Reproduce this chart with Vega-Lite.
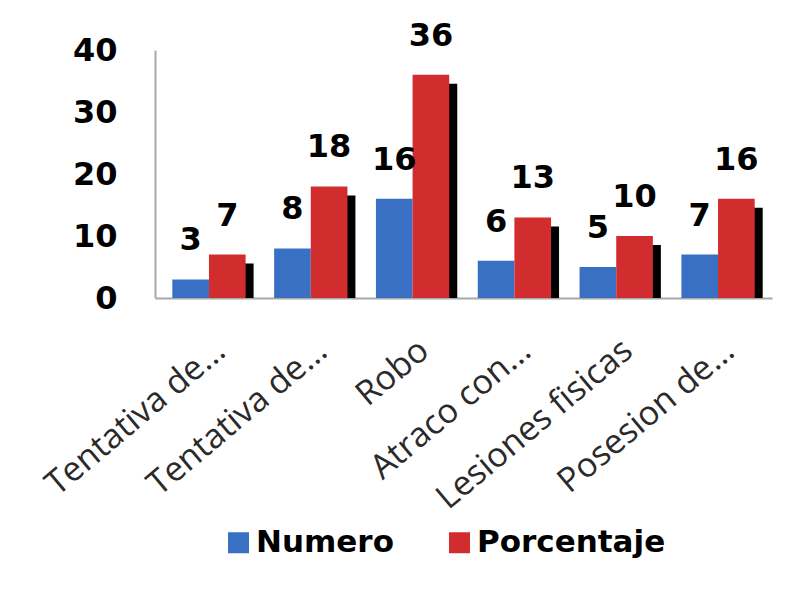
{
  "$schema": "https://vega.github.io/schema/vega-lite/v6.json",
  "autosize": "none",
  "width": 617,
  "height": 248,
  "padding": {"left": 155, "top": 50, "right": 37, "bottom": 296},
  "background": "white",
  "config": {"view": {"stroke": null}},
  "data": {
    "values": [
      {"cat": "Tentativa de...", "serie": "Numero", "valor": 3},
      {"cat": "Tentativa de...", "serie": "Porcentaje", "valor": 7},
      {"cat": "Tentativa de...\u200b", "serie": "Numero", "valor": 8},
      {"cat": "Tentativa de...\u200b", "serie": "Porcentaje", "valor": 18},
      {"cat": "Robo", "serie": "Numero", "valor": 16},
      {"cat": "Robo", "serie": "Porcentaje", "valor": 36},
      {"cat": "Atraco con...", "serie": "Numero", "valor": 6},
      {"cat": "Atraco con...", "serie": "Porcentaje", "valor": 13},
      {"cat": "Lesiones fisicas", "serie": "Numero", "valor": 5},
      {"cat": "Lesiones fisicas", "serie": "Porcentaje", "valor": 10},
      {"cat": "Posesion de...", "serie": "Numero", "valor": 7},
      {"cat": "Posesion de...", "serie": "Porcentaje", "valor": 16}
    ]
  },
  "encoding": {
    "x": {
      "field": "cat", "type": "nominal", "sort": null, "title": null,
      "scale": {"paddingInner": 0.28, "paddingOuter": 0.17},
      "axis": {
        "labelAngle": -40, "labelAlign": "right", "labelBaseline": "middle",
        "labelFont": "Open Sans", "labelFontSize": 34, "labelColor": "#2a2a2a",
        "labelPadding": 48, "labelOffset": 12, "labelLimit": 400,
        "ticks": false, "domainColor": "#a8a8a8", "domainWidth": 2
      }
    },
    "y": {
      "field": "valor", "type": "quantitative", "title": null,
      "scale": {"domain": [0, 40]},
      "axis": {
        "values": [0, 10, 20, 30, 40], "grid": false, "ticks": false,
        "labelFont": "DejaVu Sans", "labelFontWeight": "bold", "labelFontSize": 32,
        "labelColor": "black", "labelPadding": 38,
        "domainColor": "#a8a8a8", "domainWidth": 2
      }
    }
  },
  "layer": [
    {
      "transform": [{"filter": "datum.serie === 'Porcentaje'"}],
      "mark": {"type": "bar", "color": "black", "yOffset": 9, "clip": true},
      "encoding": {
        "xOffset": {"field": "serie", "type": "nominal", "scale": {"domain": ["Numero", "Porcentaje"], "paddingInner": 0, "range": [8, 81.3]}}
      }
    },
    {
      "layer": [
        {
          "mark": {"type": "bar"},
          "encoding": {
            "color": {
              "field": "serie", "type": "nominal",
              "scale": {"domain": ["Numero", "Porcentaje"], "range": ["#3a70c4", "#d22d2e"]},
              "legend": {
                "title": null, "orient": "none", "direction": "horizontal",
                "legendX": 68, "legendY": 477,
                "symbolType": "square", "symbolSize": 440, "symbolStrokeWidth": 0,
                "labelFont": "DejaVu Sans", "labelFontWeight": "bold", "labelFontSize": 31,
                "labelColor": "black", "labelLimit": 400, "columnPadding": 50, "labelOffset": 2
              }
            }
          }
        },
        {
          "mark": {"type": "text", "baseline": "alphabetic", "dy": -29, "font": "DejaVu Sans", "fontWeight": "bold", "fontSize": 32, "color": "black"},
          "encoding": {"text": {"field": "valor", "type": "quantitative"}}
        }
      ],
      "encoding": {
        "xOffset": {"field": "serie", "type": "nominal", "scale": {"domain": ["Numero", "Porcentaje"], "paddingInner": 0}}
      }
    }
  ],
  "resolve": {"scale": {"xOffset": "independent"}}
}
